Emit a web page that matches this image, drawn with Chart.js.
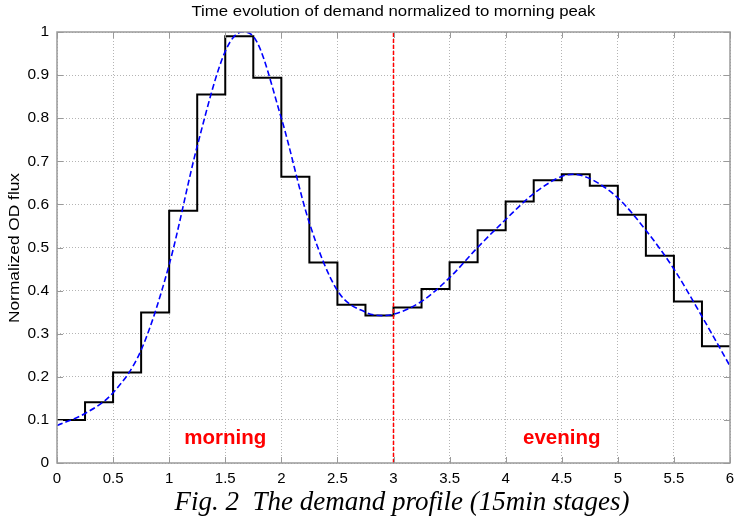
<!DOCTYPE html>
<html lang="en">
<head>
<meta charset="UTF-8">
<title>Time evolution of demand normalized to morning peak</title>
<style>
  * { margin: 0; padding: 0; box-sizing: border-box; }
  body { background: #fff; width: 738px; height: 522px; overflow: hidden; }
  #wrap { position: relative; width: 738px; height: 522px; }
</style>
</head>
<body>
<div id="wrap"><canvas id="c" width="738" height="522"></canvas></div>

<script src="https://cdn.jsdelivr.net/npm/chart.js@4.4.1/dist/chart.umd.min.js"></script>
<script>
// 15 min stages (hours from start), step heights
const stageX = [0,0.25,0.5,0.75,1,1.25,1.5,1.75,2,2.25,2.5,2.75,3,3.25,3.5,3.75,4,4.25,4.5,4.75,5,5.25,5.5,5.75,6];
const stageY = [0.100,0.141,0.210,0.349,0.585,0.855,0.990,0.894,0.664,0.465,0.367,0.342,
                0.361,0.404,0.466,0.540,0.607,0.656,0.670,0.643,0.576,0.481,0.375,0.271,0.271];

// smooth fitted profile (blue dashed)
const fitX = [0,0.25,0.5,0.75,1,1.25,1.5,1.65,1.75,2,2.25,2.5,2.75,2.9,3,3.25,3.5,3.75,4,4.25,4.5,4.6,4.75,5,5.25,5.5,5.75,6];
const fitY = [0.087,0.115,0.163,0.262,0.460,0.735,0.955,1.0,0.99,0.80,0.557,0.400,0.350,0.342,0.345,0.375,0.430,0.500,0.565,0.625,0.665,0.670,0.660,0.615,0.540,0.450,0.340,0.225];

const splitX = [3, 3];
const splitY = [0, 1];

const periodLabels = ['morning', 'evening'];
const periodX = [1.5, 4.5];
const periodY = [0.043, 0.043];

const xTicks = [0,0.5,1,1.5,2,2.5,3,3.5,4,4.5,5,5.5,6];

const pts = (xs, ys) => xs.map((x, i) => ({x, y: ys[i]}));
const SANS = '"Liberation Sans", Arial, Helvetica, sans-serif';

// draw text stretched to a given length (matlab text runs a bit wide)
function fitText(ctx, t, cx, cy, font, len, rot) {
  ctx.save();
  ctx.font = font;
  ctx.translate(cx, cy);
  if (rot) ctx.rotate(rot);
  const w = ctx.measureText(t).width;
  ctx.scale(len / w, 1);
  ctx.fillText(t, 0, 0);
  ctx.restore();
}

const frame = {
  id: 'frame',
  afterDraw(chart) {
    const {ctx, chartArea: a, scales: {x, y}} = chart;
    ctx.save();
    // matlab style box with inward ticks
    ctx.strokeStyle = '#9a9a9a';
    ctx.lineWidth = 1.5;
    ctx.strokeRect(a.left, a.top, a.right - a.left, a.bottom - a.top);
    ctx.lineWidth = 1;
    ctx.beginPath();
    xTicks.forEach(v => {
      const px = Math.round(x.getPixelForValue(v)) + 0.5;
      ctx.moveTo(px, a.bottom); ctx.lineTo(px, a.bottom - 6);
      ctx.moveTo(px, a.top); ctx.lineTo(px, a.top + 6);
    });
    for (let i = 0; i <= 10; i++) {
      const py = Math.round(y.getPixelForValue(i / 10)) + 0.5;
      ctx.moveTo(a.left, py); ctx.lineTo(a.left + 6, py);
      ctx.moveTo(a.right, py); ctx.lineTo(a.right - 6, py);
    }
    ctx.stroke();

    // period labels
    ctx.fillStyle = '#ff0000';
    ctx.font = 'bold 20.5px ' + SANS;
    ctx.textAlign = 'center';
    ctx.textBaseline = 'alphabetic';
    periodLabels.forEach((t, i) => {
      ctx.fillText(t, x.getPixelForValue(periodX[i]), y.getPixelForValue(periodY[i]));
    });

    // title and y axis label
    ctx.fillStyle = '#000';
    ctx.textBaseline = 'middle';
    fitText(ctx, 'Time evolution of demand normalized to morning peak', (a.left + a.right) / 2, 12, '15.5px ' + SANS, 404, 0);
    fitText(ctx, 'Normalized OD flux', 15, 248, '14.5px ' + SANS, 150, -Math.PI / 2);

    // figure caption
    ctx.textBaseline = 'alphabetic';
    ctx.font = 'italic 27px "Liberation Serif", "Times New Roman", serif';
    ctx.fillText('Fig. 2  The demand profile (15min stages)', 402, 510);
    ctx.restore();
  }
};

const tickFmt = v => String(Number(Number(v).toFixed(2)));

new Chart(document.getElementById('c'), {
  type: 'scatter',
  data: {
    datasets: [
      {label: 'stages', data: pts(stageX, stageY), showLine: true, stepped: 'before',
       borderColor: '#000', borderWidth: 2, pointRadius: 0, order: 2},
      {label: 'fit', data: pts(fitX, fitY), showLine: true, cubicInterpolationMode: 'monotone',
       borderColor: '#0000ff', borderWidth: 1.6, borderDash: [6, 3], pointRadius: 0, order: 1},
      {label: 'split', data: pts(splitX, splitY), showLine: true,
       borderColor: '#ff0000', borderWidth: 1.5, borderDash: [4, 2], pointRadius: 0, order: 0}
    ]
  },
  options: {
    responsive: false,
    animation: false,
    events: [],
    layout: {padding: {left: 0, right: 8, top: 32, bottom: 0}},
    plugins: {legend: {display: false}, tooltip: {enabled: false}},
    scales: {
      x: {
        type: 'linear', min: 0, max: 6,
        afterBuildTicks: s => { s.ticks = xTicks.map(v => ({value: v})); },
        afterFit: s => { s.height = 59; s.paddingLeft = 0; s.paddingRight = 0; },
        grid: {color: '#b4b4b4', drawTicks: false},
        border: {display: false, dash: [1, 2]},
        ticks: {color: '#000', padding: 7, maxRotation: 0, callback: tickFmt,
                font: {family: SANS, size: 15}}
      },
      y: {
        min: 0, max: 1,
        afterFit: s => { s.width = 57; },
        grid: {color: '#b4b4b4', drawTicks: false},
        border: {display: false, dash: [1, 2]},
        ticks: {stepSize: 0.1, color: '#000', padding: 8, callback: tickFmt,
                font: {family: SANS, size: 15.5}}
      }
    }
  },
  plugins: [frame]
});
</script>
</body>
</html>
